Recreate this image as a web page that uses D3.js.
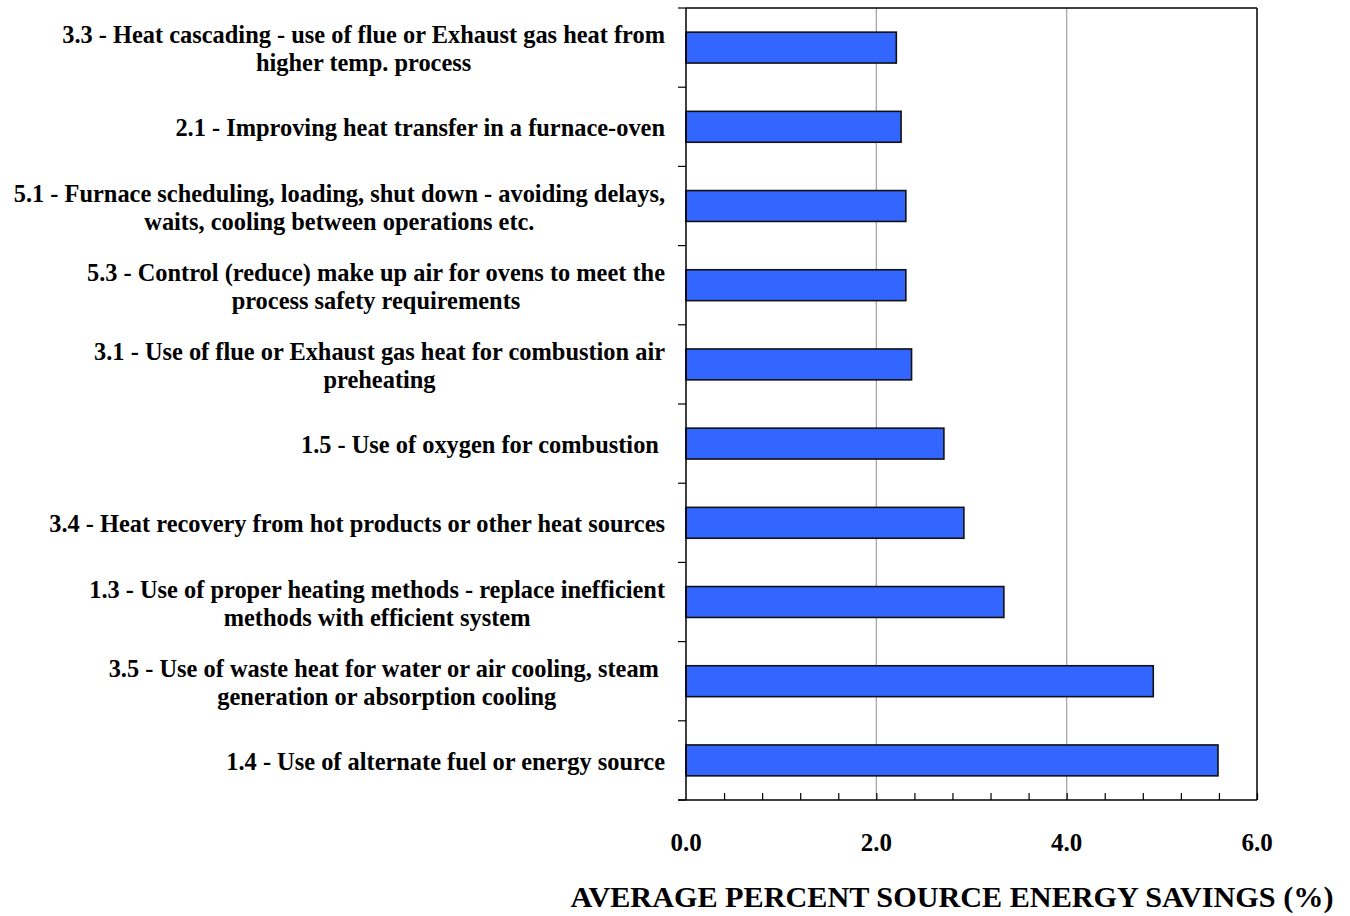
<!DOCTYPE html>
<html>
<head>
<meta charset="utf-8">
<script src="https://cdn.jsdelivr.net/npm/d3@7/dist/d3.min.js"></script>
<style>
  html, body { margin: 0; padding: 0; background: #fff; }
  svg { display: block; }
  text { font-family: "Liberation Serif", "Times New Roman", serif; font-weight: bold; fill: #000; }
</style>
</head>
<body>
<svg id="chart" width="1350" height="916"></svg>
<script>
// Energy-saving measures (top to bottom), each split into its display lines
const measures = [
  ["3.3 - Heat cascading - use of flue or Exhaust gas heat from", "higher temp. process"],
  ["2.1 - Improving heat transfer in a furnace-oven"],
  ["5.1 - Furnace scheduling, loading, shut down - avoiding delays,", "waits, cooling between operations etc."],
  ["5.3 - Control (reduce) make up air for ovens to meet the", "process safety requirements"],
  ["3.1 - Use of flue or Exhaust gas heat for combustion air", "preheating"],
  ["1.5 - Use of oxygen for combustion "],
  ["3.4 - Heat recovery from hot products or other heat sources"],
  ["1.3 - Use of proper heating methods - replace inefficient", "methods with efficient system"],
  ["3.5 - Use of waste heat for water or air cooling, steam ", "generation or absorption cooling"],
  ["1.4 - Use of alternate fuel or energy source"]
];
const savings = [2.21, 2.26, 2.31, 2.31, 2.37, 2.71, 2.92, 3.34, 4.91, 5.59];
const xTickValues = [0, 2, 4, 6];
const xAxisTitle = "AVERAGE PERCENT SOURCE ENERGY SAVINGS (%)";

const svg = d3.select("#chart");
const plot = { left: 686, right: 1257, top: 8, bottom: 800 };
const ids = measures.map((_, i) => i);

const x = d3.scaleLinear().domain([0, 6]).range([plot.left, plot.right]);
const y = d3.scaleBand().domain(ids).range([plot.top, plot.bottom]).paddingInner(0.61).paddingOuter(0.305);
const yBand = d3.scaleBand().domain(ids).range([plot.top, plot.bottom]);

// vertical gridlines at the major ticks
svg.append("g").selectAll("line").data([2, 4]).join("line")
  .attr("x1", d => x(d)).attr("x2", d => x(d))
  .attr("y1", plot.top).attr("y2", plot.bottom)
  .attr("stroke", "#a0a0a0").attr("stroke-width", 1.2);

// bars
svg.append("g").selectAll("rect").data(savings).join("rect")
  .attr("x", x(0))
  .attr("y", (d, i) => y(i))
  .attr("width", d => x(d) - x(0))
  .attr("height", y.bandwidth())
  .attr("fill", "#3366ff")
  .attr("stroke", "#111")
  .attr("stroke-width", 1.6);

// frame: top and right borders
svg.append("line").attr("x1", plot.left).attr("x2", plot.right).attr("y1", plot.top).attr("y2", plot.top)
  .attr("stroke", "#000").attr("stroke-width", 1.5);
svg.append("line").attr("x1", plot.right).attr("x2", plot.right).attr("y1", plot.top).attr("y2", plot.bottom)
  .attr("stroke", "#000").attr("stroke-width", 1.5);

// left axis: ticks at category boundaries
const boundaries = ids.map(i => yBand(i)).concat([plot.bottom]);
const gy = svg.append("g");
gy.append("line").attr("x1", plot.left).attr("x2", plot.left).attr("y1", plot.top).attr("y2", plot.bottom)
  .attr("stroke", "#000").attr("stroke-width", 1.5);
gy.selectAll("line.t").data(boundaries).join("line").attr("class", "t")
  .attr("x1", plot.left - 8).attr("x2", plot.left)
  .attr("y1", d => d).attr("y2", d => d)
  .attr("stroke", "#000").attr("stroke-width", 1.2);

// bottom axis with inward minor ticks every 0.4
const gx = svg.append("g").attr("transform", `translate(0,${plot.bottom})`);
gx.call(d3.axisBottom(x).tickValues(d3.range(0.4, 6.01, 0.4)).tickSize(-7).tickFormat(""))
  .call(g => g.select(".domain").remove())
  .call(g => g.selectAll(".tick line").attr("stroke", "#000").attr("stroke-width", 1.2));
gx.append("line").attr("x1", plot.left - 8).attr("x2", plot.right).attr("stroke", "#000").attr("stroke-width", 1.5);

// major tick labels
svg.append("g").selectAll("text").data(xTickValues).join("text")
  .attr("x", d => x(d)).attr("y", 851)
  .attr("text-anchor", "middle")
  .style("font-size", "25px")
  .text(d => d.toFixed(1));

// axis title
svg.append("text")
  .attr("x", 952).attr("y", 907)
  .attr("text-anchor", "middle")
  .style("font-size", "30.2px")
  .text(xAxisTitle);

// category labels: lines centred on each other, block right-aligned to the axis
const labelRight = 665;
const lineGap = 28;
measures.forEach((lines, i) => {
  const g = svg.append("g");
  const cy = yBand(i) + yBand.bandwidth() / 2;
  const texts = lines.map((s, k) => g.append("text")
    .attr("xml:space", "preserve")
    .style("font-size", "24.4px")
    .attr("y", cy + (k - (lines.length - 1) / 2) * lineGap + 9.5)
    .text(s));
  const w = d3.max(texts, t => t.node().getComputedTextLength());
  texts.forEach(t => t.attr("x", labelRight - w / 2).attr("text-anchor", "middle"));
});
</script>
</body>
</html>
